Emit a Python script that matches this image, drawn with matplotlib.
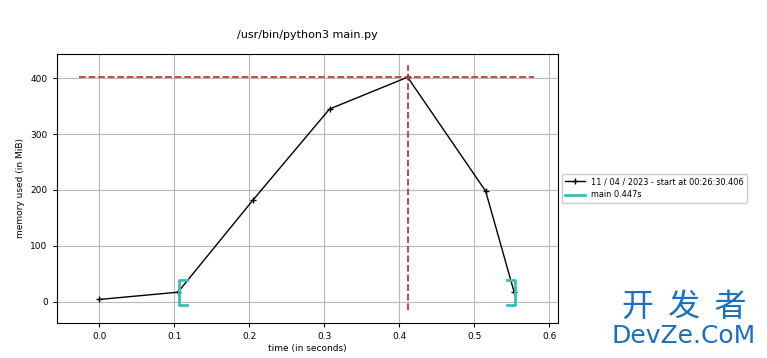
import matplotlib
matplotlib.use("Agg")
import matplotlib.pyplot as plt
import numpy as np

# memory samples (mprof style)
t = [0.0, 0.105, 0.205, 0.307, 0.411, 0.515, 0.553]
mem = [4, 17, 182, 345, 402, 198, 17]

# function timestamps for "main"
func_t = [0.106, 0.554]
func_mem = [16, 16]
func_label = "main 0.447s"
run_label = "11 / 04 / 2023 - start at 00:26:30.406"
title = "/usr/bin/python3 main.py"

fig = plt.figure(figsize=(7.67, 3.58), dpi=100)
ax = fig.add_axes([56.7 / 767, 1 - 322.7 / 358, 501 / 767, 268.7 / 358])

ax.plot(t, mem, "+-", color="black", markersize=5, linewidth=1, label=run_label)

ax.set_xlim(-0.0565, 0.611)
ax.set_ylim(-37.6, 443.5)

# max memory markers
max_i = int(np.argmax(mem))
ax.hlines(mem[max_i], -0.027, 0.58, colors="#c8383a", linestyles="--", linewidth=1.3)
ax.vlines(t[max_i], -15, 424, colors="#c8383a", linestyles="--", linewidth=1.3)

# brackets
vsize = 22.5
hsize = 0.0107
bx = np.array([hsize, 0, 0, hsize])
by = np.array([vsize, vsize, -vsize, -vsize])
bcol = "#35c0b4"
ax.plot(bx + func_t[0], by + func_mem[0], "-", color=bcol, linewidth=2, label=func_label)
ax.plot(-bx + func_t[1], by + func_mem[1], "-", color=bcol, linewidth=2)

ax.grid(True, color="#b8b8b8", linewidth=0.8)
ax.tick_params(labelsize=6.5, length=3)
ax.set_xlabel("time (in seconds)", fontsize=6.5, labelpad=2)
ax.set_ylabel("memory used (in MiB)", fontsize=6.5)
ax.set_xticks([0.0, 0.1, 0.2, 0.3, 0.4, 0.5, 0.6])
ax.set_yticks([0, 100, 200, 300, 400])
fig.text(307 / 767, 1 - 35 / 358, title, ha="center", va="center", fontsize=8)

ax.legend(loc="center left", bbox_to_anchor=(1.008, 0.5), fontsize=5.9,
          handlelength=2.4, borderaxespad=0, framealpha=1)

# watermark
fig.text(684 / 767, 1 - 307 / 358, "开  发  者", ha="center", va="center", fontsize=23,
         color="#1a6fc0", family=["Noto Sans CJK SC", "DejaVu Sans"])
fig.text(684 / 767, 1 - 336 / 358, "DevZe.CoM", ha="center", va="center", fontsize=18,
         color="#1a6fc0", family="DejaVu Sans")

fig.savefig("out.png", dpi=100)
